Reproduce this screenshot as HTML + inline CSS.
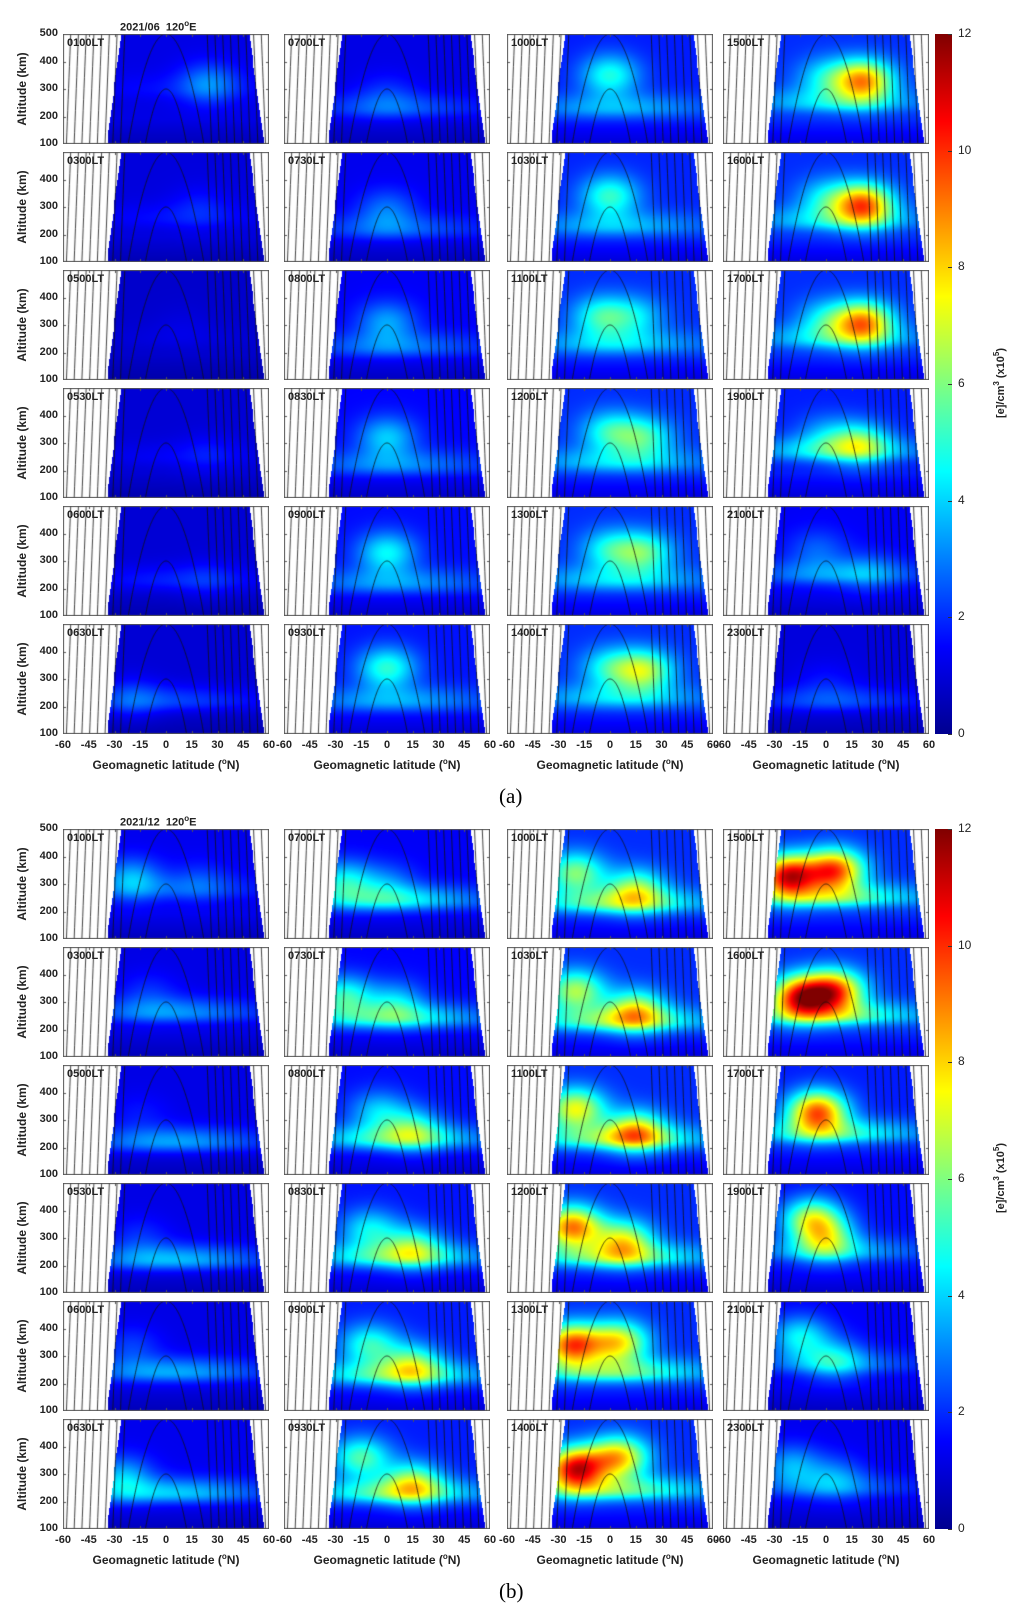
<!DOCTYPE html>
<html><head><meta charset="utf-8"><style>
body{margin:0;background:#fff;width:1018px;height:1618px;position:relative;overflow:hidden;font-family:"Liberation Sans",sans-serif;}
.t{position:absolute;font-weight:bold;font-size:11px;color:#222;white-space:nowrap;line-height:1;}
canvas{position:absolute;}
.cb{position:absolute;left:935px;width:17px;height:700px;background:linear-gradient(to top,#00008f 0%,#0000ff 12.5%,#00ffff 37.5%,#ffff00 62.5%,#ff0000 87.5%,#800000 100%);}
.cap{position:absolute;font-family:"Liberation Serif",serif;font-size:21px;}
</style></head><body>
<div id="root"></div>
<script>
// ===== Data =====
const colLeft=[63,284,507,723];
const figTop=[34,829];
const ltLabels=[
 ["0100LT","0300LT","0500LT","0530LT","0600LT","0630LT"],
 ["0700LT","0730LT","0800LT","0830LT","0900LT","0930LT"],
 ["1000LT","1030LT","1100LT","1200LT","1300LT","1400LT"],
 ["1500LT","1600LT","1700LT","1900LT","2100LT","2300LT"]];
const xTicks=[-60,-45,-30,-15,0,15,30,45,60];
const yTicks=[100,200,300,400,500];
const cbTicks=[0,2,4,6,8,10,12];
// per panel background level
const bgA=[[1.2,1.1,0.9,1.0,1.0,1.0],[1.2,1.3,1.4,1.5,1.6,1.7],[1.8,1.9,2.0,2.0,2.0,2.0],[2.0,2.0,2.0,1.8,1.4,1.1]];
const bgB=[[1.3,1.2,1.2,1.2,1.2,1.3],[1.4,1.5,1.6,1.7,1.8,1.8],[2.0,2.0,2.0,2.0,2.0,2.0],[2.0,2.0,1.8,1.6,1.4,1.3]];
// F band: altitude and amplitude
const bandAltA=[[300,260,250,250,230,220],[230,220,220,220,220,220],[230,230,230,230,230,230],[250,250,250,270,250,220]];
const bandAmpA=[[0.4,0.5,0.2,0.4,0.8,1.2],[1.3,1.3,1.5,1.6,1.7,1.8],[1.8,1.8,1.9,2.0,2.0,2.0],[2.0,2.0,2.0,2.5,1.8,1.3]];
const bandAltB=[[280,260,220,220,240,230],[240,240,230,230,230,230],[230,230,230,230,240,240],[250,250,250,250,270,250]];
const bandAmpB=[[1.0,2.0,2.2,2.5,2.3,2.6],[3.0,3.2,3.3,3.3,3.4,3.5],[3.5,3.6,3.6,3.5,3.5,3.5],[3.5,3.5,3.2,2.0,1.5,1.3]];
// crest blobs [lat, alt, amplitude] per panel
const blobsA=[
 [[[25,320,1.8]],[[20,300,0.6]],[[10,300,0.2]],[[25,260,0.5]],[[25,230,0.5]],[[-20,230,1.0]]],
 [[[0,280,0.8]],[[0,290,1.5]],[[0,310,2.0]],[[0,320,2.4]],[[0,330,2.9]],[[0,340,3.3]]],
 [[[0,350,3.0]],[[0,340,3.2]],[[-5,330,3.0],[15,330,2.0]],[[0,340,2.8],[20,320,3.0]],[[0,340,2.6],[20,330,3.4]],[[0,340,2.6],[20,330,4.5]]],
 [[[0,340,2.2],[22,330,6.5]],[[0,330,2.2],[22,310,7.0]],[[0,320,2.2],[22,310,6.5]],[[0,330,1.5],[20,300,3.5]],[[-5,340,1.2],[25,260,1.0]],[[0,290,0.5]]]];
const blobsB=[
 [[[-20,320,2.2],[20,310,0.8]],[[-10,330,0.8]],[[-15,320,0.5]],[[-15,300,0.8]],[[-20,330,1.0]],[[-25,290,2.3]]],
 [[[-25,310,3.0],[0,300,1.5]],[[-25,320,3.5],[5,300,2.3]],[[-5,330,2.3],[15,270,2.8]],[[-10,330,2.7],[15,270,3.2]],[[-10,340,3.2],[15,270,3.6]],[[-15,360,3.6],[15,270,4.0]]],
 [[[-20,340,4.0],[15,280,4.0]],[[-20,340,4.5],[15,270,4.5]],[[-20,340,5.3],[15,260,4.8]],[[-22,340,7.0],[8,290,4.8]],[[-22,340,7.5],[5,350,5.5]],[[-20,320,8.5],[5,360,6.0]]],
 [[[-22,330,8.5],[5,350,7.5]],[[-15,320,7.8],[5,340,7.2]],[[-5,330,7.5]],[[-8,370,4.8],[0,300,4.0]],[[-15,370,3.0],[5,290,2.2]],[[-20,330,2.2],[5,290,1.6]]]];
// field line footprints at 100 km
const fieldFoot=[26.5,31,35.5,40,44.5,49,53.5,58,62.5];

// ===== Helpers =====
const W=206,H=110,PITCH=118;
const root=document.getElementById('root');
function lx(lat){return (lat+60)/120*W;}
function ay(alt){return H-(alt-100)/400*H;}
function clamp(v){return Math.max(0,Math.min(1,v));}
function jet(t){return [clamp(1.5-Math.abs(4*t-3)),clamp(1.5-Math.abs(4*t-2)),clamp(1.5-Math.abs(4*t-1))];}
function addText(txt,x,y,name,extra){
 const d=document.createElement('div');d.className='t';d.textContent=txt;
 d.style.left=x+'px';d.style.top=y+'px';
 if(extra)Object.assign(d.style,extra);
 
 
 root.appendChild(d);return d;}

function drawPanel(f,c,r){
 const left=colLeft[c],top=figTop[f]+r*PITCH;
 const cv=document.createElement('canvas');cv.width=W;cv.height=H;
 cv.style.left=left+'px';cv.style.top=top+'px';
 
 
 root.appendChild(cv);
 const ctx=cv.getContext('2d');
 const img=ctx.createImageData(W,H);
 const bg=(f?bgB:bgA)[c][r],bA=(f?bandAltB:bandAltA)[c][r],bM=(f?bandAmpB:bandAmpA)[c][r],bl=(f?blobsB:blobsA)[c][r];
 for(let py=0;py<H;py++){
  const alt=100+(H-py-0.5)/H*400;
  const step=Math.floor((alt-100)/25);
  const leftE=-34+step*0.5, rightE=57-step*0.55;
  for(let px=0;px<W;px++){
   const lat=-60+(px+0.5)/W*120;
   const i=(py*W+px)*4;
   if(lat<leftE||lat>rightE){img.data[i]=255;img.data[i+1]=255;img.data[i+2]=255;img.data[i+3]=255;continue;}
   let v=bg*(alt<190?0.55+0.45*(alt-100)/90:1);
   v+=bM*Math.exp(-Math.pow((alt-bA)/55,2))*Math.exp(-Math.pow((lat-5)/50,2))*(alt<bA?Math.exp(-Math.pow((bA-alt)/45,2)):1);
   for(const b of bl){v+=b[2]*Math.exp(-Math.pow((lat-b[0])/17,2)-Math.pow((alt-b[1])/75,2));}
   const col=jet(Math.min(1,v/12));
   img.data[i]=col[0]*255;img.data[i+1]=col[1]*255;img.data[i+2]=col[2]*255;img.data[i+3]=255;
  }}
 ctx.putImageData(img,0,0);
 ctx.strokeStyle='#111';ctx.lineWidth=0.8;
 function arc(apex,foot){ctx.beginPath();let s=false;
  for(let lat=-foot;lat<=foot+0.01;lat+=0.25){const alt=apex-(apex-100)*Math.pow(lat/foot,2);
   const X=lx(lat),Y=ay(alt);if(!s){ctx.moveTo(X,Y);s=true;}else ctx.lineTo(X,Y);}ctx.stroke();}
 arc(300,12);arc(500,22);
 for(const ft of fieldFoot){const k=Math.pow((ft-2.5)/ft,2);const A=(500-100*k)/(1-k);arc(A,ft);}
 ctx.strokeStyle='#555';ctx.lineWidth=1;ctx.strokeRect(0.5,0.5,W-1,H-1);
 ctx.beginPath();
 for(const t of xTicks){const X=Math.round(lx(t))+0.5;ctx.moveTo(X,H);ctx.lineTo(X,H-3);ctx.moveTo(X,0);ctx.lineTo(X,3);}
 for(const t of yTicks){const Y=Math.round(ay(t))+0.5;ctx.moveTo(0,Y);ctx.lineTo(3,Y);ctx.moveTo(W,Y);ctx.lineTo(W-3,Y);}
 ctx.stroke();
 addText(ltLabels[c][r],left+4,top+4,'panel-label-'+ltLabels[c][r].toLowerCase());
 if(c===0){
  for(const t of yTicks){ if(t===500&&r>0)continue;
   const d=addText(String(t),left-27,top+ay(t)-6,'y-tick-label');d.style.width='22px';d.style.textAlign='right';}
  const yl=addText('Altitude (km)',left-41,top+H/2-6,'y-axis-title',{transform:'translate(-50%,0) rotate(-90deg)',fontSize:'12px'});
 }
 if(r===5){
  for(const t of xTicks){const d=addText(String(t),left+lx(t)-12,top+H+6,'x-tick-label');d.style.width='24px';d.style.textAlign='center';}
  const xl=addText('',left,top+H+24,'x-axis-title',{fontSize:'12px',width:W+'px',textAlign:'center'});
  xl.innerHTML='Geomagnetic latitude (<sup style="font-size:8px">o</sup>N)';
 }
}
for(let f=0;f<2;f++){
 for(let c=0;c<4;c++)for(let r=0;r<6;r++)drawPanel(f,c,r);
 const tt=addText('',120,figTop[f]-14,'figure-title');
 tt.innerHTML=(f?'2021/12':'2021/06')+'&nbsp;&nbsp;120<sup style="font-size:8px">o</sup>E';
 const cb=document.createElement('div');cb.className='cb';cb.style.top=figTop[f]+'px';
 
 
 root.appendChild(cb);
 for(const t of cbTicks){const y=figTop[f]+700-t/12*700;
  addText(String(t),958,y-7,'colorbar-tick-label',{fontSize:'12px',fontWeight:'normal'});
  const tk=document.createElement('div');tk.style.cssText='position:absolute;left:948px;width:4px;height:1px;background:#333;top:'+y+'px';
  
  
  root.appendChild(tk);}
 const cl=addText('',1000,figTop[f]+349,'colorbar-title',{transform:'translate(-50%,-50%) rotate(-90deg)',fontSize:'11px'});
 cl.innerHTML='[e]/cm<sup style="font-size:8px">3</sup> (x10<sup style="font-size:8px">5</sup>)';
 const cap=document.createElement('div');cap.className='cap';cap.textContent=f?'(b)':'(a)';
 cap.style.left='499px';cap.style.top=(f?1579:784)+'px';
 
 
 root.appendChild(cap);
}
</script>
</body></html>
